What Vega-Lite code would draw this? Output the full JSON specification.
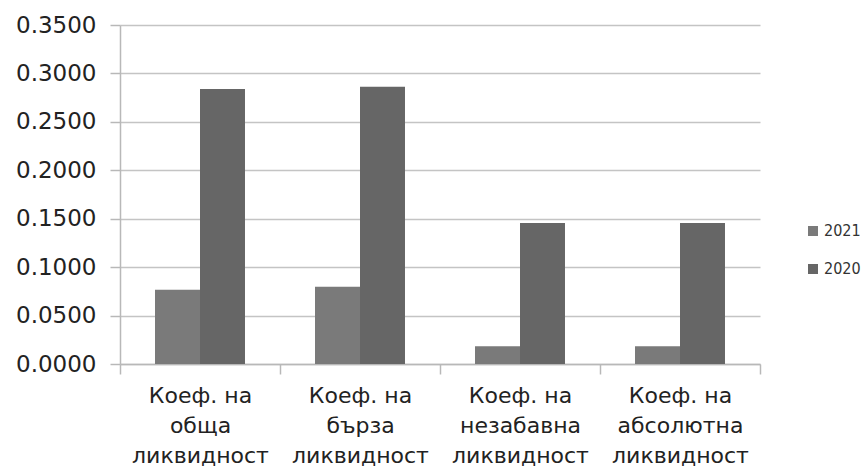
{
  "$schema": "https://vega.github.io/schema/vega-lite/v6.json",
  "autosize": {"type": "none"},
  "padding": {"left": 120, "top": 25, "right": 104, "bottom": 104},
  "width": 640,
  "height": 339,
  "background": "white",
  "config": {
    "view": {"stroke": null},
    "axis": {"gridColor": "#c4c4c4", "gridWidth": 1.5, "domainColor": "#b8b8b8", "domainWidth": 1.5, "tickColor": "#b8b8b8", "tickWidth": 1.5}
  },
  "data": {
    "values": [
      {"k": "Коеф. на|обща|ликвидност", "year": "2021", "v": 0.0766},
      {"k": "Коеф. на|обща|ликвидност", "year": "2020", "v": 0.2840},
      {"k": "Коеф. на|бърза|ликвидност", "year": "2021", "v": 0.0797},
      {"k": "Коеф. на|бърза|ликвидност", "year": "2020", "v": 0.2862},
      {"k": "Коеф. на|незабавна|ликвидност", "year": "2021", "v": 0.0184},
      {"k": "Коеф. на|незабавна|ликвидност", "year": "2020", "v": 0.1455},
      {"k": "Коеф. на|абсолютна|ликвидност", "year": "2021", "v": 0.0184},
      {"k": "Коеф. на|абсолютна|ликвидност", "year": "2020", "v": 0.1455}
    ]
  },
  "mark": {"type": "bar"},
  "encoding": {
    "x": {
      "field": "k",
      "type": "nominal",
      "sort": null,
      "scale": {"paddingInner": 0, "paddingOuter": 0},
      "axis": {
        "title": null,
        "labelAngle": 0,
        "labelExpr": "split(datum.label, '|')",
        "labelFont": "DejaVu Sans",
        "labelFontSize": 22,
        "labelColor": "#222222",
        "labelLineHeight": 30,
        "labelPadding": 11,
        "tickSize": 10,
        "tickBand": "extent",
        "grid": false,
        "labelOverlap": false,
        "labelLimit": 0
      }
    },
    "xOffset": {
      "field": "year",
      "type": "nominal",
      "sort": ["2021", "2020"],
      "scale": {"paddingInner": 0, "paddingOuter": 0.778}
    },
    "y": {
      "field": "v",
      "type": "quantitative",
      "scale": {"domain": [0, 0.35], "nice": false},
      "axis": {
        "title": null,
        "values": [0, 0.05, 0.1, 0.15, 0.2, 0.25, 0.3, 0.35],
        "format": ".4f",
        "labelFont": "DejaVu Sans",
        "labelFontSize": 23,
        "labelColor": "#222222",
        "labelPadding": 14,
        "tickSize": 10
      }
    },
    "color": {
      "field": "year",
      "type": "nominal",
      "scale": {"domain": ["2021", "2020"], "range": ["#7a7a7a", "#666666"]},
      "legend": {
        "title": null,
        "orient": "none",
        "legendX": 685,
        "legendY": 198,
        "symbolType": "square",
        "symbolSize": 100,
        "labelFont": "DejaVu Sans Condensed",
        "labelFontSize": 16,
        "labelColor": "#333333",
        "labelOffset": 3,
        "rowPadding": 22,
        "padding": 0
      }
    }
  }
}
